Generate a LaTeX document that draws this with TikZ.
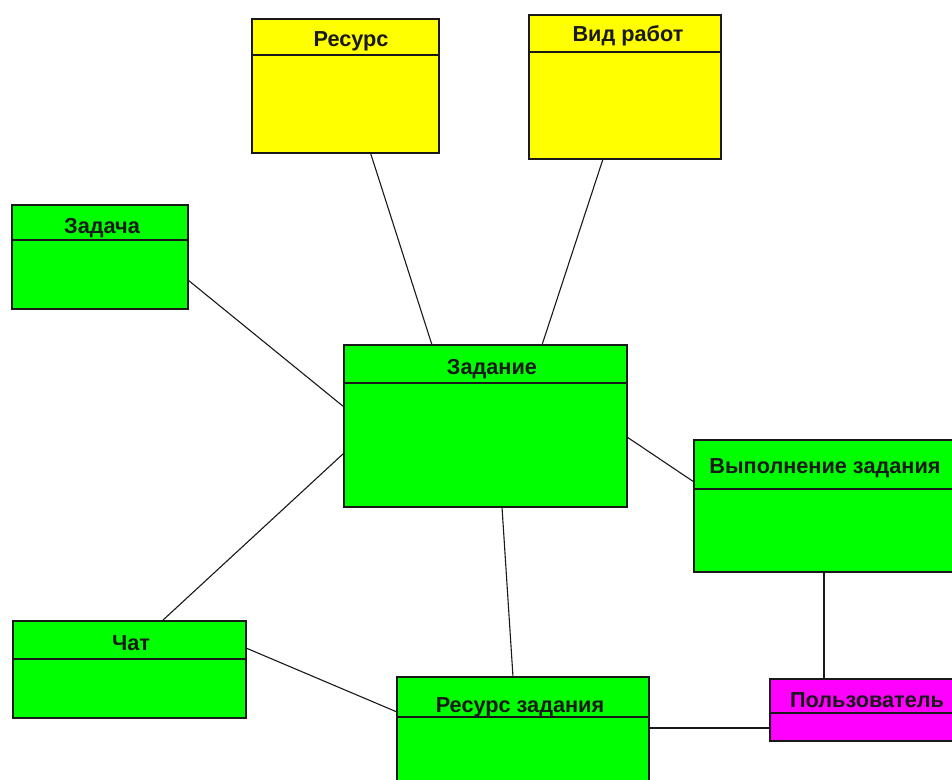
\documentclass[tikz,border=0pt]{standalone}
\usepackage{fontspec}
\setmainfont{Liberation Sans}
\usetikzlibrary{positioning}

\definecolor{entyellow}{RGB}{255,255,0}
\definecolor{entgreen}{RGB}{0,255,0}
\definecolor{entmagenta}{RGB}{255,0,255}
\definecolor{inkline}{RGB}{25,25,25}

\tikzset{
  entity/.style={draw=inkline, line width=1.5pt, anchor=north west,
                 inner sep=0pt, outer sep=0pt},
  title/.style={anchor=base, inner sep=0pt, text=inkline,
                font=\fontsize{21.7}{25}\selectfont\bfseries},
  header/.style={draw=inkline, line width=1.5pt},
  link/.style={draw=inkline, line width=1.1pt},
}

\begin{document}
\begin{tikzpicture}[x=1pt, y=-1pt]
\useasboundingbox (0,0) rectangle (952,779);
\fill[white] (0,0) rectangle (952,779);
\clip (0,0) rectangle (952,779);

% entity boxes
\node[entity, fill=entyellow, minimum width=187pt, minimum height=134pt] (resurs) at (252,19) {};
\node[entity, fill=entyellow, minimum width=192pt, minimum height=144pt] (vid) at (529,15) {};
\node[entity, fill=entgreen, minimum width=176pt, minimum height=104pt] (zadacha) at (12,205) {};
\node[entity, fill=entgreen, minimum width=283pt, minimum height=162pt] (zadanie) at (344,345) {};
\node[entity, fill=entgreen, minimum width=268pt, minimum height=132pt] (vypoln) at (694,440) {};
\node[entity, fill=entgreen, minimum width=233pt, minimum height=97pt] (chat) at (13,621) {};
\node[entity, fill=entgreen, minimum width=252pt, minimum height=123pt] (resz) at (397,677) {};
\node[entity, fill=entmagenta, minimum width=194pt, minimum height=62pt] (polz) at (770,679) {};

% header separators
\draw[header] ([yshift=-36pt]resurs.north west) -- ([yshift=-36pt]resurs.north east);
\draw[header] ([yshift=-37pt]vid.north west) -- ([yshift=-37pt]vid.north east);
\draw[header] ([yshift=-35pt]zadacha.north west) -- ([yshift=-35pt]zadacha.north east);
\draw[header] ([yshift=-38pt]zadanie.north west) -- ([yshift=-38pt]zadanie.north east);
\draw[header] ([yshift=-49pt]vypoln.north west) -- ([yshift=-49pt]vypoln.north east);
\draw[header] ([yshift=-38pt]chat.north west) -- ([yshift=-38pt]chat.north east);
\draw[header] ([yshift=-40pt]resz.north west) -- ([yshift=-40pt]resz.north east);
\draw[header] ([yshift=-34pt]polz.north west) -- ([yshift=-34pt]polz.north east);

% titles
\node[title] (resurs-t) at (351,46) {Ресурс};
\node[title] (vid-t) at (628,41) {Вид работ};
\node[title] (zadacha-t) at (102,233) {Задача};
\node[title] (zadanie-t) at (492,374) {Задание};
\node[title] (vypoln-t) at (825,473) {Выполнение задания};
\node[title] (chat-t) at (131,650) {Чат};
\node[title] (resz-t) at (520,712) {Ресурс задания};
\node[title] (polz-t) at (867,707) {Пользователь};

% connectors
\draw[link] ([xshift=25pt]resurs.south) -- ([xshift=-53.5pt]zadanie.north);
\draw[link] ([xshift=-22pt]vid.south) -- ([xshift=56.5pt]zadanie.north);
\draw[link] ([yshift=-75pt]zadacha.north east) -- ([yshift=-62pt]zadanie.north west);
\draw[link] ([yshift=-108pt]zadanie.north west) -- ([xshift=149pt]chat.north west);
\draw[link] ([yshift=-92pt]zadanie.north east) -- ([yshift=-42pt]vypoln.north west);
\draw[link] ([xshift=158pt]zadanie.south west) -- ([xshift=116pt]resz.north west);
\draw[link] ([yshift=-27pt]chat.north east) -- ([yshift=-35pt]resz.north west);
\draw[link] ([xshift=130pt]vypoln.south west) -- ([xshift=54pt]polz.north west);
\draw[link] ([yshift=-51pt]resz.north east) -- ([yshift=-49pt]polz.north west);
\end{tikzpicture}
\end{document}
